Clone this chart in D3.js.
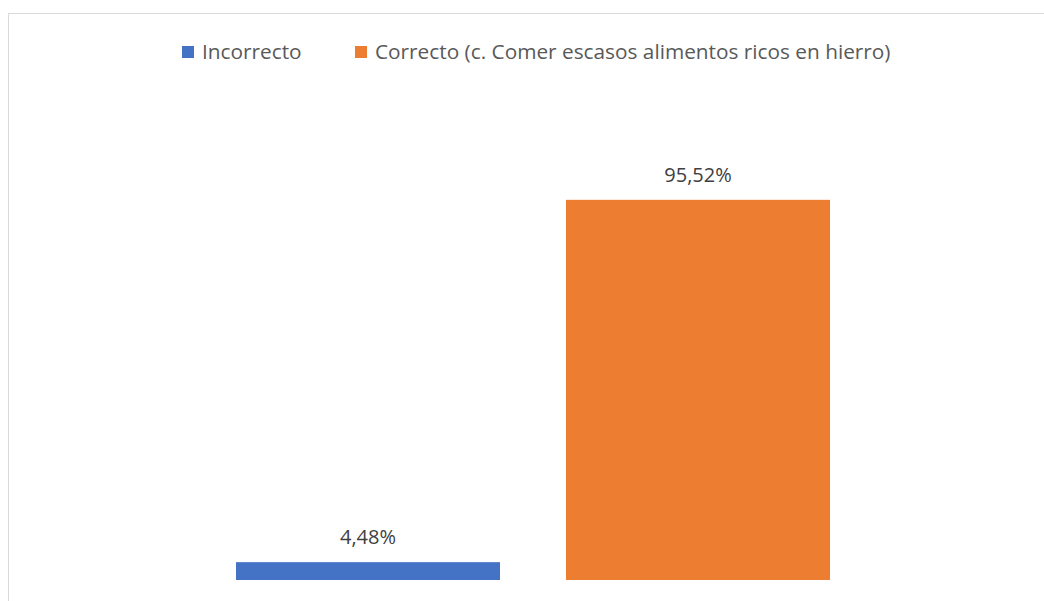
<!DOCTYPE html>
<html>
<head>
<meta charset="utf-8">
<script src="https://cdn.jsdelivr.net/npm/d3@7"></script>
<style>
  html, body { margin: 0; padding: 0; background: #ffffff; }
  svg { display: block; }
</style>
</head>
<body>
<script>
// Series and categories
const categories = ["Incorrecto", "Correcto (c. Comer escasos alimentos ricos en hierro)"];
const values = [4.48, 95.52];
const valueLabels = ["4,48%", "95,52%"];
const colors = ["#4472c4", "#ed7d31"];

const W = 1044, H = 601;
const FONT = "'Open Sans', 'Noto Sans', sans-serif";

const svg = d3.select("body").append("svg")
  .attr("width", W).attr("height", H);

// Chart area frame (extends past the window on right and bottom)
svg.append("rect")
  .attr("x", 8.5).attr("y", 13.5)
  .attr("width", 1060).attr("height", 620)
  .attr("fill", "#fff")
  .attr("stroke", "#d9d9d9")
  .attr("stroke-width", 1);

const x = d3.scaleBand()
  .domain(categories)
  .range([203, 863])
  .paddingInner(0.2)
  .paddingOuter(0.1);

const y = d3.scaleLinear()
  .domain([0, 100])
  .range([580, 182]);

// Bars
svg.append("g").selectAll("rect")
  .data(categories)
  .join("rect")
  .attr("x", d => x(d))
  .attr("width", x.bandwidth())
  .attr("y", (d, i) => y(values[i]))
  .attr("height", (d, i) => y(0) - y(values[i]))
  .attr("fill", (d, i) => colors[i]);

// Value labels
svg.append("g").selectAll("text")
  .data(categories)
  .join("text")
  .attr("x", d => x(d) + x.bandwidth() / 2)
  .attr("y", (d, i) => y(values[i]) - 18)
  .attr("text-anchor", "middle")
  .attr("font-family", FONT)
  .attr("font-size", 20)
  .attr("fill", "#404040")
  .text((d, i) => valueLabels[i]);

// Legend
const legendItems = [
  { sx: 182, tx: 202 },
  { sx: 355, tx: 375 }
];
const legend = svg.append("g");
categories.forEach((c, i) => {
  legend.append("rect")
    .attr("x", legendItems[i].sx).attr("y", 46)
    .attr("width", 12).attr("height", 12)
    .attr("fill", colors[i]);
  legend.append("text")
    .attr("x", legendItems[i].tx).attr("y", 58.5)
    .attr("font-family", FONT)
    .attr("font-size", 20.8)
    .attr("fill", "#595959")
    .text(c);
});
</script>
</body>
</html>
